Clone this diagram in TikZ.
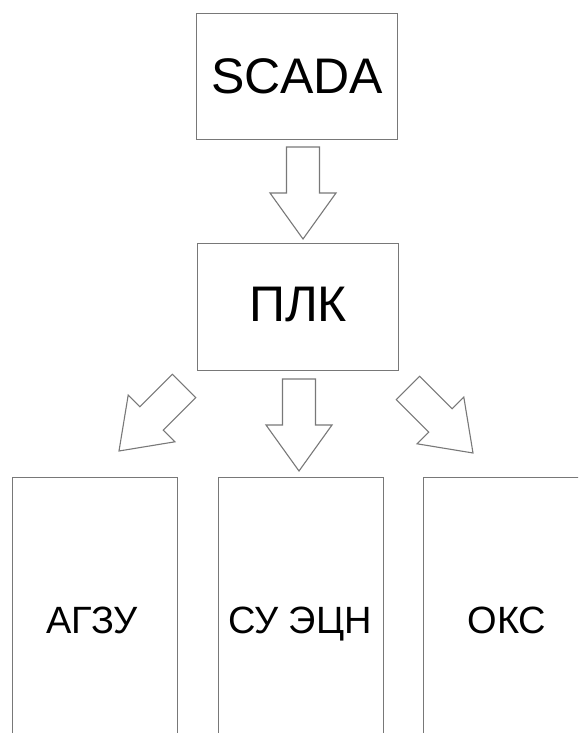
\documentclass[tikz,border=0pt]{standalone}
\usepackage{fontspec}
\setmainfont{Liberation Sans}
\usetikzlibrary{calc}
\definecolor{boxgray}{RGB}{120,120,120}
\begin{document}
\begin{tikzpicture}[x=1pt,y=1pt,
  box/.style={draw=boxgray, line width=1.3pt, fill=white, inner sep=0pt, anchor=north west},
  big/.style={inner sep=0pt, anchor=base, font=\fontsize{50}{50}\selectfont},
  lbl/.style={inner sep=0pt, anchor=base, font=\fontsize{38}{38}\selectfont},
  barrow/.pic={\draw[draw=boxgray, line width=1.1pt, line join=miter, fill=white]
      (-16.5,92) -- (16.5,92) -- (16.5,46) -- (33,46) -- (0,0) -- (-33,46) -- (-16.5,46) -- cycle;}]
\clip (0,0) rectangle (578,-733);

% upper level
\node[box, minimum width=201, minimum height=126] (scada) at (196,-13) {};
\node[big] (scadatxt) at ($(scada.center)+(0,-17)$) {SCADA};

\node[box, minimum width=201, minimum height=127] (plk) at (197,-243) {};
\node[big] (plktxt) at ($(plk.center)+(0,-14)$) {ПЛК};

% lower level (boxes run past the lower and right edges)
\node[box, minimum width=165, minimum height=300] (agzu) at (12,-477) {};
\node[box, minimum width=165, minimum height=300] (suecn) at (218,-477) {};
\node[box, minimum width=168, minimum height=300] (oks) at (423,-477) {};
\node[lbl] (agzutxt) at (92,-633) {АГЗУ};
\node[lbl] (suecntxt) at (300,-633) {СУ ЭЦН};
\node[lbl] (okstxt) at (507,-633) {ОКС};

% block arrows
\pic at (303,-239) {barrow};
\pic at (299,-471) {barrow};
\pic[rotate=-45] at (119,-451) {barrow};
\pic[rotate=45] at (473,-453) {barrow};
\end{tikzpicture}
\end{document}
